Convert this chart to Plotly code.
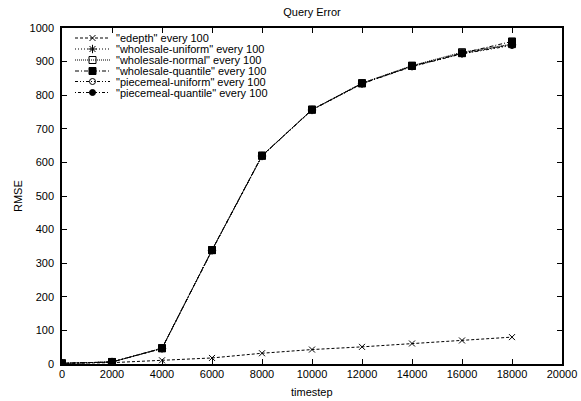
import plotly.graph_objects as go

timesteps = [0, 2000, 4000, 6000, 8000, 10000, 12000, 14000, 16000, 18000]
edepth = [2, 4, 11, 18, 32, 43, 51, 61, 70, 80]
wholesale_uniform = [2, 6, 46, 338, 619, 756, 834, 886, 924, 950]
wholesale_normal = [2, 6, 47, 339, 620, 757, 836, 888, 928, 952]
wholesale_quantile = [2, 6, 47, 339, 620, 757, 835, 887, 925, 960]
piecemeal_uniform = [2, 6, 46, 338, 619, 756, 834, 885, 923, 948]
piecemeal_quantile = [2, 6, 46, 339, 620, 757, 835, 886, 924, 951]
x_ticks = list(range(0, 20001, 2000))
y_ticks = list(range(0, 1001, 100))

series = [
    ('"edepth" every 100', edepth, "3px,2px", "x-thin-open", 6),
    ('"wholesale-uniform" every 100', wholesale_uniform, "1px,2px", "asterisk-open", 7),
    ('"wholesale-normal" every 100', wholesale_normal, "1px,1px", "square-open", 7),
    ('"wholesale-quantile" every 100', wholesale_quantile, "4px,2px,1px,2px", "square", 7),
    ('"piecemeal-uniform" every 100', piecemeal_uniform, "3px,2px,1px,2px,1px,2px", "circle-open", 6),
    ('"piecemeal-quantile" every 100', piecemeal_quantile, "1px,2px,3px,2px", "circle", 6),
]

W, H = 581, 401
L, R, T, B = 62, 19, 28, 37
pw, ph = W - L - R, H - T - B

FAM = "Liberation Sans, Arial, sans-serif"
font = dict(family=FAM, size=11, color="black")

fig = go.Figure()
for name, ys, dash, sym, sz in series:
    fig.add_trace(go.Scatter(
        x=timesteps, y=ys, name=name, mode="lines+markers", showlegend=False,
        line=dict(color="black", width=1, dash=dash),
        marker=dict(symbol=sym, size=sz, color="black", line=dict(color="black", width=1)),
    ))

# compact gnuplot-style key drawn on an overlay axis measured in pixels from the plot's bottom-left
row_y = [38, 49, 60, 71, 81.5, 92.5]
for (name, ys, dash, sym, sz), yy in zip(series, row_y):
    yv = (H - B) - yy
    fig.add_trace(go.Scatter(
        x=[75 - L, 110 - L], y=[yv, yv], mode="lines", showlegend=False,
        xaxis="x2", yaxis="y2", hoverinfo="skip",
        line=dict(color="black", width=1, dash=dash),
    ))
    fig.add_trace(go.Scatter(
        x=[92.5 - L], y=[yv], mode="markers", showlegend=False,
        xaxis="x2", yaxis="y2", hoverinfo="skip",
        marker=dict(symbol=sym, size=sz, color="black", line=dict(color="black", width=1)),
    ))
    fig.add_annotation(x=115 - L, y=yv, xref="x2", yref="y2", text=name,
                       showarrow=False, xanchor="left", yanchor="middle", font=font,
                       borderpad=0)

fig.update_layout(
    width=W, height=H,
    margin=dict(l=L, r=R, t=T, b=B, autoexpand=False),
    paper_bgcolor="white", plot_bgcolor="white",
    font=font, showlegend=False,
    title=dict(text="Query Error", x=(L + W - R) / 2 / W, xanchor="center",
               y=1 - 12 / H, yanchor="middle", font=font),
    xaxis=dict(
        range=[0, 20000], tickvals=x_ticks, ticktext=[str(v) for v in x_ticks],
        ticks="inside", ticklen=5, tickcolor="black", showgrid=False, zeroline=False,
        showline=True, linecolor="black", linewidth=1.5, mirror="ticks", automargin=False,
        tickfont=font, ticklabelstandoff=-1,
    ),
    yaxis=dict(
        range=[0, 1000], tickvals=y_ticks, ticktext=[str(v) for v in y_ticks],
        ticks="inside", ticklen=5, tickcolor="black", showgrid=False, zeroline=False,
        showline=True, linecolor="black", linewidth=1.5, mirror="ticks", automargin=False,
        tickfont=font, ticklabelstandoff=4,
    ),
    xaxis2=dict(overlaying="x", range=[0, pw], visible=False, fixedrange=True),
    yaxis2=dict(overlaying="y", range=[0, ph], visible=False, fixedrange=True),
)
fig.add_annotation(text="timestep", x=(312 - L) / pw, y=(H - B - 392) / ph, xref="paper", yref="paper",
                   showarrow=False, xanchor="center", yanchor="middle", font=font)
fig.add_annotation(text="RMSE", x=(18 - L) / pw, y=0.5, xref="paper", yref="paper", textangle=-90,
                   showarrow=False, xanchor="center", yanchor="middle", font=font)
fig.write_html("out.html", config={"displayModeBar": False},
               post_script="document.body.style.margin='0';")
